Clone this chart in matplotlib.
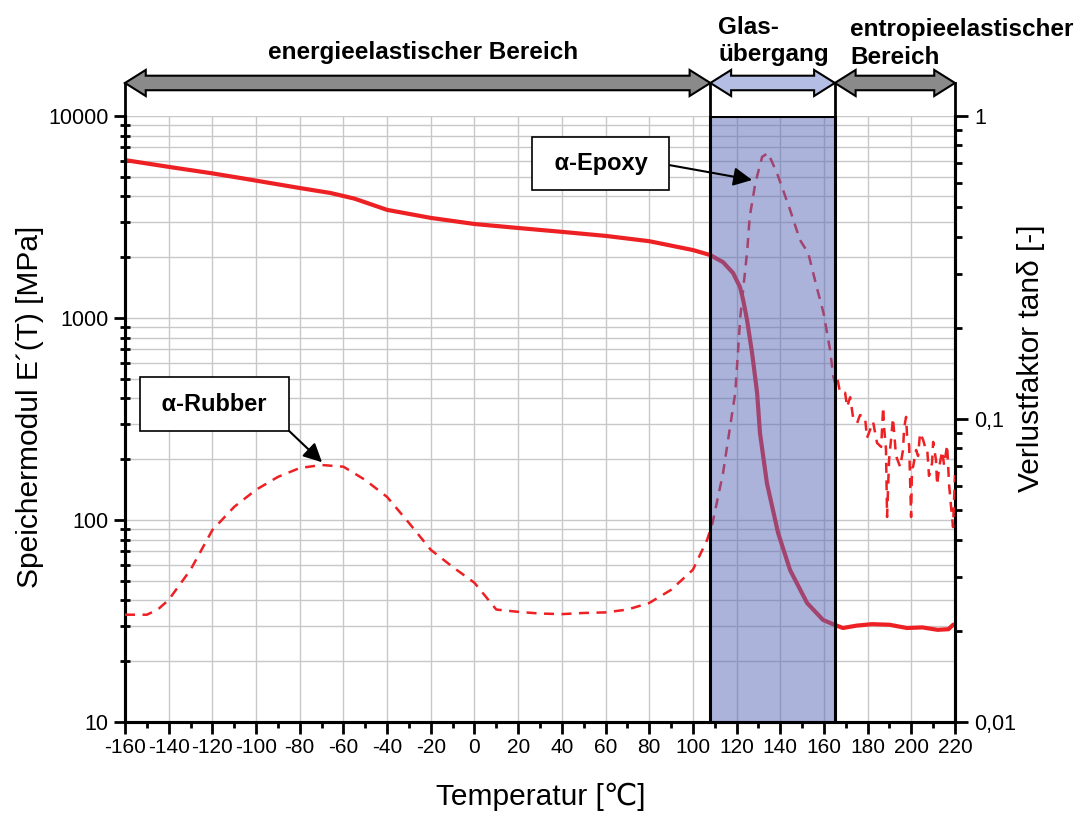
import matplotlib
matplotlib.use("Agg")
import matplotlib.pyplot as plt
from matplotlib.ticker import FixedLocator, MultipleLocator, LogLocator, NullFormatter, FuncFormatter
from matplotlib.patches import Polygon
from matplotlib.transforms import blended_transform_factory

plt.rcParams['font.family'] = ['Liberation Sans', 'DejaVu Sans']
plt.rcParams['axes.unicode_minus'] = False

# ---------------- data ----------------
temp_E = [-160, -140, -120, -107, -80, -66, -55, -40, -20, 0, 20, 40, 60, 80, 100,
          107.9, 113.8, 118.4, 121.6, 123.0, 124.8, 127.1, 129.4, 130.7, 133.9, 139.0,
          144.5, 152.3, 159.6, 165.1, 168.7, 175, 182, 190, 195, 198, 205, 212, 217, 219, 220]
E_mod = [6050, 5600, 5200, 4930, 4400, 4160, 3900, 3430, 3130, 2920, 2790, 2670, 2550, 2400, 2170,
         2050, 1890, 1670, 1420, 1230, 977, 671, 426, 270, 152, 86.3,
         56.5, 38.8, 32.0, 30.2, 29.2, 30.0, 30.5, 30.3, 29.6, 29.2, 29.4, 28.6, 28.8, 30.2, 30.5]

temp_tan = [-160, -150, -145, -140, -130, -120, -110, -100, -90, -80, -70, -60, -50, -40, -30,
            -20, -10, 0, 10, 20, 30, 40, 50, 60, 70, 80, 90, 100, 106.5, 109, 113.8, 117,
            119.4, 121.7, 124.9, 126, 128.6, 131.7, 134.4, 138.5, 144.5, 149, 152.8, 157,
            159.8, 162.8, 164.3,
            165.1, 166.0, 167.4, 169.7, 170.6, 172.0, 173.3, 175.2, 176.5, 178.8, 179.7,
            182.5, 184.3, 186.2, 187.1, 187.6, 188.4, 188.9, 189.8, 190.7, 191.6, 193.0,
            194.9, 196.2, 196.7, 197.6, 198.1, 199.0, 199.9, 200.3, 200.8, 202.2, 203.1,
            204.0, 205.4, 206.3, 207.2, 208.1, 209.5, 210.0, 211.3, 211.8, 212.7, 214.1,
            215.0, 216.4, 216.8, 217.3, 218.2, 219.1, 220]
tan_d = [0.0226, 0.0226, 0.0235, 0.0253, 0.0318, 0.043, 0.0513, 0.0584, 0.0644, 0.0689, 0.0705,
         0.0696, 0.0629, 0.0553, 0.0454, 0.037, 0.0325, 0.0288, 0.0235, 0.0231, 0.0228, 0.0227,
         0.0229, 0.0230, 0.0235, 0.0247, 0.0273, 0.0318, 0.0399, 0.0454, 0.0663, 0.094,
         0.122, 0.217, 0.361, 0.464, 0.601, 0.733, 0.755, 0.648, 0.49, 0.39, 0.353, 0.267,
         0.224, 0.169, 0.138,
         0.1315, 0.1377, 0.122, 0.122, 0.1096, 0.118, 0.1016, 0.097, 0.103, 0.1016, 0.0866,
         0.0978, 0.0834, 0.0809, 0.1096, 0.0927, 0.0796, 0.0475, 0.0732, 0.0853, 0.1008, 0.0755,
         0.0695, 0.079, 0.0934, 0.1016, 0.0866, 0.0821, 0.0475, 0.0689, 0.0695, 0.079, 0.0755,
         0.0899, 0.0853, 0.0809, 0.0809, 0.0649, 0.0716, 0.084, 0.0732, 0.0606, 0.0689, 0.0784,
         0.0705, 0.0821, 0.0716, 0.0606, 0.0513, 0.044, 0.0653]

x_ticks = list(range(-160, 221, 20))
E_ticks = [10, 100, 1000, 10000]
tan_ticks = [0.01, 0.1, 1]

tg_start, tg_end = 108, 165
regions = [(-160, tg_start, 'energieelastischer Bereich'),
           (tg_start, tg_end, 'Glas-\nübergang'),
           (tg_end, 220, 'entropieelastischer\nBereich')]

# ---------------- figure ----------------
fig = plt.figure(figsize=(10.89, 8.13), dpi=100)
ax = fig.add_axes([125/1089, 1-722/813, 830/1089, 606/813])
ax2 = ax.twinx()

red = '#ed2024'
ax.plot(temp_E, E_mod, color=red, lw=3.0, solid_capstyle='round', zorder=3)
ax2.plot(temp_tan, tan_d, color=red, lw=1.8, dashes=(4, 3), zorder=3)

ax.set_xlim(-160, 220)
ax.set_yscale('log')
ax.set_ylim(10, 10000)
ax2.set_yscale('log')
ax2.set_ylim(0.01, 1)

ax.xaxis.set_major_locator(FixedLocator(x_ticks))
ax.xaxis.set_minor_locator(MultipleLocator(10))
ax.yaxis.set_major_locator(FixedLocator(E_ticks))
ax.yaxis.set_minor_locator(LogLocator(base=10, subs=range(2, 10)))
ax.yaxis.set_minor_formatter(NullFormatter())
ax.yaxis.set_major_formatter(FuncFormatter(lambda v, p: f"{v:g}"))
ax2.yaxis.set_major_locator(FixedLocator(tan_ticks))
ax2.yaxis.set_minor_locator(LogLocator(base=10, subs=range(2, 10)))
ax2.yaxis.set_minor_formatter(NullFormatter())
ax2.yaxis.set_major_formatter(FuncFormatter(lambda v, p: f"{v:g}".replace('.', ',')))

ax.grid(True, which='major', axis='x', color='#c8c8c8', lw=1.0)
ax.grid(True, which='both', axis='y', color='#c8c8c8', lw=1.0)
ax.set_axisbelow(True)

for a in (ax, ax2):
    for s in a.spines.values():
        s.set_linewidth(2.2)
    a.spines['top'].set_visible(False)

ax.tick_params(axis='x', which='major', direction='out', length=8.5, width=2, labelsize=15, pad=3)
ax.tick_params(axis='x', which='minor', direction='out', length=4.5, width=2)
ax.tick_params(axis='y', which='major', direction='out', length=8, width=2, labelsize=15.5, pad=4)
ax.tick_params(axis='y', which='minor', direction='inout', length=7, width=2)
ax2.tick_params(axis='y', which='major', direction='out', length=9, width=2, labelsize=15.5, pad=5)
ax2.tick_params(axis='y', which='minor', direction='out', length=5, width=2)

ax.set_xlabel('Temperatur [℃]', fontsize=21.5)
ax.xaxis.set_label_coords(0.501, -0.100)
ax.set_ylabel('Speichermodul E´(T) [MPa]', fontsize=21.5)
ax.yaxis.set_label_coords(-0.097, 0.52)
ax2.set_ylabel('Verlustfaktor tanδ [-]', fontsize=21.5)
ax2.yaxis.set_label_coords(1.075, 0.60)

# glass transition band (drawn on top, translucent)
ax2.axvspan(tg_start, tg_end, facecolor=(0.345, 0.408, 0.722, 0.5), edgecolor='black',
            lw=2.2, zorder=5)

# region arrows above the plot
trans = blended_transform_factory(ax.transData, ax.transAxes)
yc, hs, hh, hl = 1.0545, 0.012, 0.0215, 9.5
fills = ['#8a8a8a', '#b4bee4', '#8a8a8a']
for (x0, x1, lab), fc in zip(regions, fills):
    pts = [(x0, yc), (x0 + hl, yc + hh), (x0 + hl, yc + hs), (x1 - hl, yc + hs),
           (x1 - hl, yc + hh), (x1, yc), (x1 - hl, yc - hh), (x1 - hl, yc - hs),
           (x0 + hl, yc - hs), (x0 + hl, yc - hh)]
    ax2.add_patch(Polygon(pts, closed=True, facecolor=fc, edgecolor='black', lw=1.5,
                          transform=trans, clip_on=False, zorder=6))
for xv in (-160, tg_start, tg_end, 220):
    ax2.plot([xv, xv], [1.0, yc], color='black', lw=2, transform=trans, clip_on=False, zorder=6)

ax2.text(-23.6, 1.104, regions[0][2], transform=trans, ha='center', va='center',
         fontsize=17.5, fontweight='bold')
ax2.text(111.5, 1.124, regions[1][2], transform=trans, ha='left', va='center',
         fontsize=17.5, fontweight='bold', linespacing=1.25)
ax2.text(172.0, 1.12, regions[2][2], transform=trans, ha='left', va='center',
         fontsize=17.5, fontweight='bold', linespacing=1.25)

# peak annotations
box = dict(boxstyle='square,pad=0.65', facecolor='white', edgecolor='black', lw=1.2)
ax2.annotate(' α-Epoxy ', xy=(127.1, 0.615), xytext=(57.9, 0.697), ha='center', va='center',
             fontsize=17, fontweight='bold', bbox=box, zorder=7,
             arrowprops=dict(arrowstyle='-|>', color='black', lw=1.5, mutation_scale=28,
                             relpos=(1.0, 0.55), shrinkA=0, shrinkB=0))
ax2.annotate(' α-Rubber ', xy=(-69.8, 0.072), xytext=(-119.2, 0.1118), ha='center', va='center',
             fontsize=17, fontweight='bold', bbox=box, zorder=7,
             arrowprops=dict(arrowstyle='-|>', color='black', lw=1.5, mutation_scale=28,
                             relpos=(1.0, 0.0), shrinkA=0, shrinkB=0))

fig.savefig('out.png', dpi=100)
